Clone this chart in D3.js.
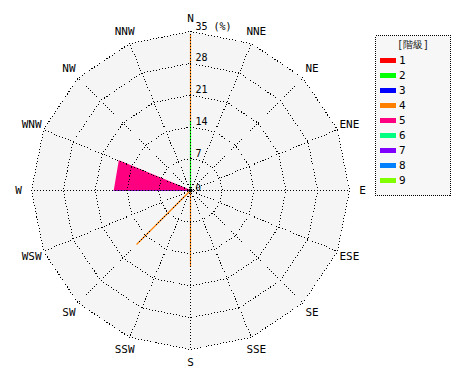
<!DOCTYPE html>
<html><head><meta charset="utf-8">
<script src="https://cdn.jsdelivr.net/npm/d3@7"></script>
<style>
html,body{margin:0;padding:0;background:#fff;}
svg{display:block;}
text{font-family:"DejaVu Sans Mono","Liberation Mono",monospace;}
</style></head>
<body>
<script>
// ---- data ----
const directions = ["N","NNE","NE","ENE","E","ESE","SE","SSE","S","SSW","SW","WSW","W","WNW","NW","NNW"];
const classes = ["1","2","3","4","5","6","7","8","9"];
const classColors = ["#ff0000","#00ff00","#0000ff","#ff8000","#ff0080","#00ff80","#8000ff","#0080ff","#80ff00"];
const ringTicks = [7,14,21,28,35];
const ringLabels = ["7","14","21","28","35 (%)"];
const legendTitle = "[階級]";
//               N    NNE NE ENE E ESE SE SSE S    SSW SW   WSW W    WNW  NW NNW
const class1 = [0,    0, 0, 0,  0, 0,  0, 0,  0,   0,  0,   0,  0,   0,   0, 0];
const class2 = [15.4, 0, 0, 0,  0, 0,  0, 0,  0,   0,  0,   0,  0,   0,   0, 0];
const class3 = [0,    0, 0, 0,  0, 0,  0, 0,  0,   0,  0,   0,  16.9,0,   0, 0];
const class4 = [19.0, 0, 0, 0,  0, 0,  0, 0,  16.8,0,  16.8,0,  0,   0,   0, 0];
const class5 = [0,    0, 0, 0,  0, 0,  0, 0,  0,   0,  0,   0,  0,   17.1,0, 0];
const class6 = [0,    0, 0, 0,  0, 0,  0, 0,  0,   0,  0,   0,  0,   0,   0, 0];
const class7 = [0,    0, 0, 0,  0, 0,  0, 0,  0,   0,  0,   0,  0,   0,   0, 0];
const class8 = [0,    0, 0, 0,  0, 0,  0, 0,  0,   0,  0,   0,  0,   0,   0, 0];
const class9 = [0,    0, 0, 0,  0, 0,  0, 0,  0,   0,  0,   0,  0,   0,   0, 0];
const classValues = [class1,class2,class3,class4,class5,class6,class7,class8,class9];

// ---- layout ----
const W = 470, H = 380, cx = 190.5, cy = 190.5, R = 159, labelR = 172;
const svg = d3.select("body").append("svg").attr("width", W).attr("height", H);
const g = svg.append("g").attr("transform", `translate(${cx},${cy})`);

const r = d3.scaleLinear().domain([0, 35]).range([0, R]);
const ang = d3.scaleLinear().domain([0, directions.length]).range([0, 2 * Math.PI]);

const table = directions.map((d, i) => {
  const row = {dir: d};
  classes.forEach((c, k) => row[c] = classValues[k][i]);
  return row;
});
const stacked = d3.stack().keys(classes)(table);

const ringLine = d3.lineRadial().angle((d, i) => ang(i)).radius(d => d).curve(d3.curveLinearClosed);

// background
g.append("path").attr("d", ringLine(directions.map(() => r(35)))).attr("fill", "#f5f5f5");

// data: stacked radar bands (area between cumulative polygons)
const outerL = d3.lineRadial().angle((d, i) => ang(i)).radius(d => r(d[1])).curve(d3.curveLinearClosed);
const innerL = d3.lineRadial().angle((d, i) => ang(i)).radius(d => r(d[0])).curve(d3.curveLinearClosed);
const dataG = g.append("g");
stacked.forEach(layer => {
  const k = classes.indexOf(layer.key);
  if (d3.max(layer, d => d[1] - d[0]) === 0) return;
  dataG.append("path").attr("d", outerL(layer) + innerL(layer))
    .attr("fill", classColors[k]).attr("fill-rule", "evenodd").attr("stroke", "none");
  layer.forEach((d, i) => {
    if (d[1] - d[0] <= 0) return;
    const a = ang(i);
    dataG.append("line")
      .attr("x1", r(d[0]) * Math.sin(a)).attr("y1", -r(d[0]) * Math.cos(a))
      .attr("x2", r(d[1]) * Math.sin(a)).attr("y2", -r(d[1]) * Math.cos(a))
      .attr("stroke", classColors[k]).attr("stroke-width", 1.2);
  });
});

// grid
const grid = g.append("g").attr("fill", "none").attr("stroke", "#000").attr("stroke-width", 1)
  .attr("stroke-dasharray", "1,2").attr("shape-rendering", "crispEdges");
ringTicks.forEach(t => grid.append("path").attr("d", ringLine(directions.map(() => r(t)))));
directions.forEach((d, i) => {
  const a = ang(i);
  grid.append("line").attr("x1", 0).attr("y1", 0)
    .attr("x2", r(35) * Math.sin(a)).attr("y2", -r(35) * Math.cos(a));
});
g.append("circle").attr("r", 2).attr("fill", "#000");

// ring labels
g.append("text").attr("x", 5).attr("y", 0).attr("font-size", 9).text("0");
ringTicks.forEach((t, i) => {
  g.append("text").attr("x", 5).attr("y", -r(t) - 2).attr("font-size", 10).attr("fill", "#000").text(ringLabels[i]);
});

// direction labels
directions.forEach((d, i) => {
  const a = ang(i);
  g.append("text").attr("x", labelR * Math.sin(a)).attr("y", -labelR * Math.cos(a))
    .attr("text-anchor", "middle").attr("dominant-baseline", "central")
    .attr("font-size", 11).text(d);
});

// legend
const lg = svg.append("g");
lg.append("rect").attr("x", 375.5).attr("y", 35.5).attr("width", 75).attr("height", 160)
  .attr("fill", "#f7f7f7").attr("stroke", "#000").attr("stroke-dasharray", "1,1").attr("shape-rendering", "crispEdges");
lg.append("text").attr("x", 413).attr("y", 44).attr("text-anchor", "middle").attr("dominant-baseline", "central")
  .attr("font-family", "'Noto Sans CJK JP', sans-serif").attr("font-size", 10).attr("fill", "#222").text(legendTitle);
classes.forEach((c, k) => {
  const y = 60 + k * 15;
  lg.append("rect").attr("x", 380).attr("y", y - 2).attr("width", 16).attr("height", 5).attr("fill", classColors[k]);
  lg.append("text").attr("x", 399).attr("y", y).attr("dominant-baseline", "central").attr("font-size", 11).text(c);
});
</script>
</body></html>
